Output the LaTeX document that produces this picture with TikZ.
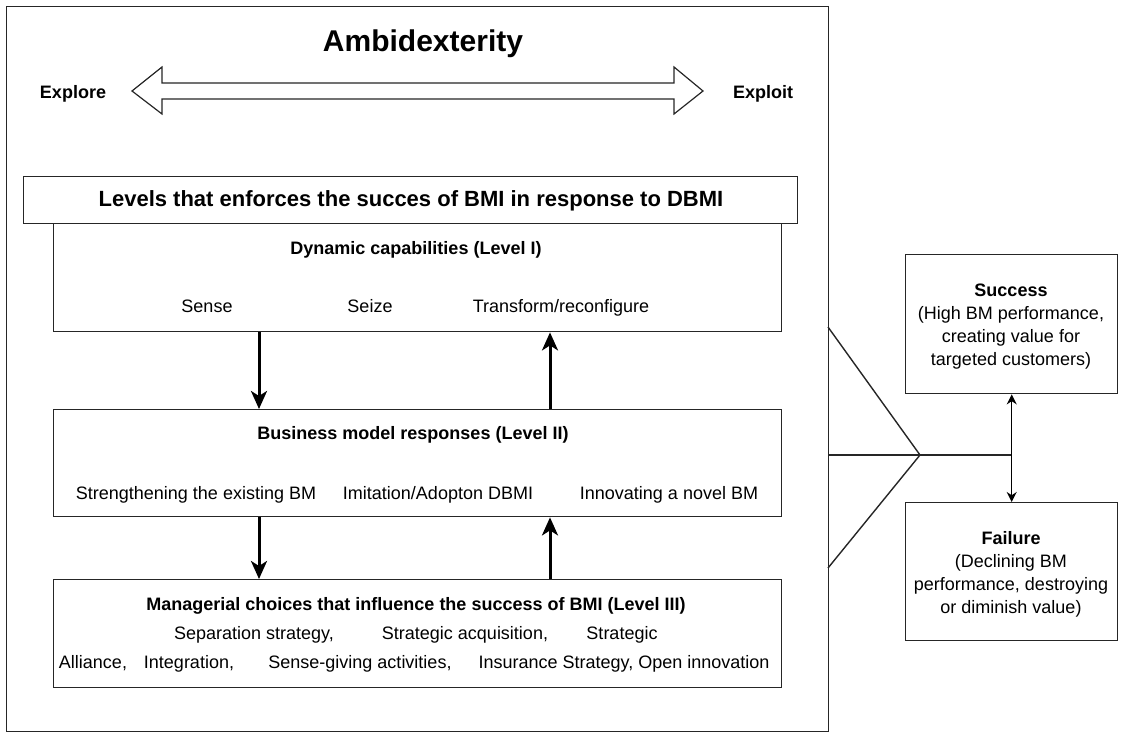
\documentclass[tikz,border=0pt]{standalone}
\usepackage{fontspec}
\setmainfont{Liberation Sans}
\usetikzlibrary{arrows.meta,calc}
\begin{document}
\begin{tikzpicture}[x=1pt,y=-1pt,
  box/.style={draw=black!85,line width=1.4pt,rectangle,inner sep=0pt,anchor=north west},
  txt/.style={inner sep=0pt,text height=12.9pt,text depth=0pt,font=\fontsize{18}{22}\selectfont},
  hdr/.style={inner sep=0pt,text height=12.9pt,text depth=0pt,font=\fontsize{18}{22}\selectfont\bfseries},
  outc/.style={inner sep=0pt,align=center,font=\fontsize{18}{23}\selectfont},
  bigarrow/.style={line width=3pt,-{Stealth[length=18pt,width=16pt,inset=5pt]}},
  smallarrow/.style={line width=1.4pt,{Stealth[length=10pt,width=10pt]}-{Stealth[length=10pt,width=10pt]}},
  conn/.style={line width=1.4pt,draw=black!85},
]
\useasboundingbox (0,0) rectangle (1121,733);

% outer frame and level boxes
\node[box,minimum width=822pt,minimum height=725pt] (frame) at (6,6) {};
\node[box,minimum width=774pt,minimum height=47pt] (levels) at (23,176) {};
\node[box,minimum width=728pt,minimum height=108pt] (dyn) at (53,223) {};
\node[box,minimum width=728pt,minimum height=107pt] (bm) at (53,409) {};
\node[box,minimum width=728pt,minimum height=108pt] (mgr) at (53,579) {};
\node[box,minimum width=212pt,minimum height=139pt] (succ) at (905,254) {};
\node[box,minimum width=212pt,minimum height=138pt] (fail) at (905,502) {};

% ambidexterity header
\node[inner sep=0pt,font=\fontsize{30}{34}\selectfont\bfseries] (amb) at (423,44) {Ambidexterity};
\node[hdr] (explore) at (73,92) {Explore};
\node[hdr] (exploit) at (763,92) {Exploit};
\draw[line width=1.2pt,draw=black!85,fill=white]
  (132,91) -- (162,67) -- (162,83) -- (674,83) -- (674,67) -- (703,91)
  -- (674,114) -- (674,99) -- (162,99) -- (162,114) -- cycle;

% level texts
\node[inner sep=0pt,text height=15.8pt,text depth=0pt,font=\fontsize{22}{26}\selectfont\bfseries] (levt) at (411,199) {Levels that enforces the succes of BMI in response to DBMI};

\node[hdr] (dynt) at (416,248) {Dynamic capabilities (Level I)};
\node[txt] (sense) at (207,306) {Sense};
\node[txt] (seize) at (370,306) {Seize};
\node[txt] (transf) at (561,306) {Transform/reconfigure};

\node[hdr] (bmt) at (413,433) {Business model responses (Level II)};
\node[txt] (strength) at (196,493) {Strengthening the existing BM};
\node[txt] (imit) at (438,493) {Imitation/Adopton DBMI};
\node[txt] (innov) at (669,493) {Innovating a novel BM};

\node[hdr] (mgrt) at (416,604) {Managerial choices that influence the success of BMI (Level III)};
\node[txt] (sep) at (254,633) {Separation strategy,};
\node[txt] (acq) at (465,633) {Strategic acquisition,};
\node[txt] (strat) at (622,633) {Strategic};
\node[txt] (alli) at (93,662) {Alliance,};
\node[txt] (integ) at (189,662) {Integration,};
\node[txt] (sgive) at (360,662) {Sense-giving activities,};
\node[txt] (insur) at (624,662) {Insurance Strategy, Open innovation};

% outcome texts
\node[outc] (succt) at (1011,327)
  {\textbf{Success}\\(High BM performance,\\creating value for\\targeted customers)};
\node[outc] (failt) at (1011,574)
  {\textbf{Failure}\\(Declining BM\\performance, destroying\\or diminish value)};

% arrows between levels
\draw[bigarrow] ($(dyn.south west)+(206,0)$) -- ($(bm.north west)+(206,0)$);
\draw[bigarrow] ($(bm.north west)+(497,0)$) -- ($(dyn.south west)+(497,0)$);
\draw[bigarrow] ($(bm.south west)+(206,0)$) -- ($(mgr.north west)+(206,0)$);
\draw[bigarrow] ($(mgr.north west)+(497,0)$) -- ($(bm.south west)+(497,0)$);

% funnel to outcomes
\coordinate (ftop) at (828,327);
\coordinate (apex) at (920,455);
\coordinate (fbot) at (828,568);
\draw[conn] (ftop) -- (apex) -- (fbot);
\draw[conn] (frame.east |- apex) -- (succ.south |- apex);
\draw[smallarrow] (succ.south) -- (fail.north);
\end{tikzpicture}
\end{document}
